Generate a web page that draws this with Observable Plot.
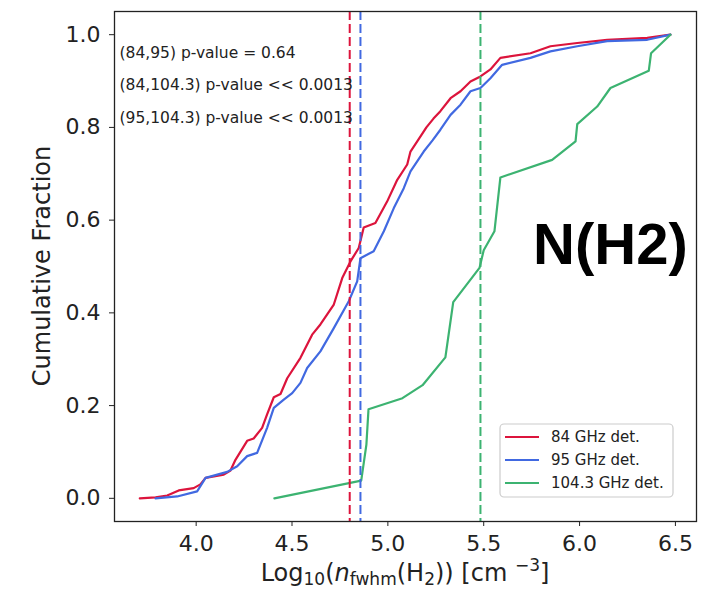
<!DOCTYPE html>
<html><head><meta charset="utf-8">
<script src="https://cdn.jsdelivr.net/npm/d3@7"></script>
<script src="https://cdn.jsdelivr.net/npm/@observablehq/plot@0.6"></script>
<style>body{margin:0;background:#fff} svg{display:block}</style>
</head><body><div id="chart"></div>
<script>
const xTicks = [4.0, 4.5, 5.0, 5.5, 6.0, 6.5];
const yTicks = [0.0, 0.2, 0.4, 0.6, 0.8, 1.0];
const seriesNames = ["84 GHz det.", "95 GHz det.", "104.3 GHz det."];
const seriesColors = ["#dc143c", "#4169e1", "#3cb371"];

const x84 = [3.706,3.788,3.849,3.909,3.987,4.022,4.049,4.144,4.179,4.205,4.266,4.300,4.344,4.370,4.405,4.440,4.475,4.544,4.605,4.648,4.718,4.762,4.805,4.848,4.874,4.935,4.996,5.049,5.101,5.118,5.160,5.201,5.238,5.274,5.327,5.379,5.431,5.483,5.535,5.587,5.744,5.848,5.988,6.144,6.353,6.474];
const y84 = [0.000,0.002,0.006,0.017,0.022,0.030,0.044,0.051,0.060,0.083,0.124,0.129,0.152,0.181,0.218,0.225,0.259,0.303,0.353,0.375,0.418,0.475,0.511,0.540,0.584,0.594,0.640,0.687,0.720,0.748,0.774,0.800,0.819,0.835,0.863,0.878,0.899,0.910,0.925,0.950,0.960,0.975,0.982,0.989,0.993,1.000];

const x95 = [3.788,3.901,4.005,4.049,4.162,4.214,4.266,4.318,4.370,4.405,4.457,4.501,4.544,4.579,4.648,4.718,4.796,4.840,4.857,4.926,4.979,5.031,5.083,5.118,5.187,5.233,5.274,5.327,5.379,5.431,5.483,5.535,5.596,5.744,5.848,5.988,6.144,6.353,6.474];
const y95 = [0.000,0.004,0.015,0.044,0.057,0.069,0.091,0.098,0.152,0.195,0.213,0.227,0.249,0.281,0.317,0.367,0.425,0.468,0.518,0.533,0.576,0.626,0.669,0.705,0.748,0.772,0.795,0.827,0.849,0.878,0.885,0.906,0.935,0.950,0.964,0.975,0.986,0.989,1.000];

const x104 = [4.408,4.861,4.888,4.899,5.076,5.181,5.300,5.341,5.478,5.500,5.556,5.587,5.857,5.979,5.988,6.092,6.161,6.361,6.373,6.474];
const y104 = [0.000,0.038,0.116,0.192,0.216,0.244,0.304,0.423,0.497,0.535,0.576,0.692,0.730,0.770,0.807,0.845,0.885,0.922,0.960,1.000];

const medians = [4.801, 4.857, 5.483];
const pLabels = ["(84,95) p-value = 0.64", "(84,104.3) p-value << 0.0013", "(95,104.3) p-value << 0.0013"];
const pLabelY = [0.95, 0.88, 0.81];
const pLabelX = 3.6;
const panelLabel = "N(H2)";
const yLabel = "Cumulative Fraction";

const seriesX = [x84, x95, x104], seriesY = [y84, y95, y104];
const rows = [];
seriesNames.forEach((s, i) => seriesX[i].forEach((v, j) => rows.push({series: s, x: v, y: seriesY[i][j]})));
const medRows = seriesNames.map((s, i) => ({series: s, x: medians[i]}));
const pRows = pLabels.map((t, i) => ({t, y: pLabelY[i]}));

const fmt = d => d.toFixed(1);
const chart = Plot.plot({
  width: 704, height: 589,
  marginLeft: 114, marginRight: 8, marginTop: 11, marginBottom: 68,
  style: {fontFamily: "'DejaVu Sans', sans-serif", background: "white", color: "#222"},
  x: {domain: [3.574, 6.61], label: null},
  y: {domain: [-0.05, 1.05], label: null},
  color: {domain: seriesNames, range: seriesColors},
  marks: [
    Plot.line(rows, {x: "x", y: "y", z: "series", stroke: "series", strokeWidth: 2.2}),
    Plot.ruleX(medRows, {x: "x", stroke: "series", strokeDasharray: "9,4", strokeWidth: 2}),
    Plot.axisX({ticks: xTicks, tickFormat: fmt, tickSize: 5, tickPadding: 9, fontSize: 22, label: null}),
    Plot.axisY({ticks: yTicks, tickFormat: fmt, tickSize: 5, tickPadding: 9, fontSize: 22, label: null}),
    Plot.frame({stroke: "#222", strokeWidth: 1.3}),
    Plot.text(pRows, {x: () => pLabelX, y: "y", text: "t", textAnchor: "start", lineAnchor: "bottom", fontSize: 15.5, fill: "#222"}),
    Plot.text([panelLabel], {x: () => 6.161, y: () => 0.505, text: d => d, textAnchor: "middle", lineAnchor: "bottom", fontSize: 58, fontWeight: "bold", fontFamily: "'Liberation Sans', Arial, sans-serif", fill: "#000"})
  ]
});
document.getElementById("chart").appendChild(chart);

const svg = d3.select(chart);
// y axis label
svg.append("text").attr("transform", "translate(42,266) rotate(-90)")
  .attr("text-anchor", "middle").attr("dominant-baseline", "central")
  .attr("font-size", 24).attr("fill", "#222").attr("font-family", "'DejaVu Sans', sans-serif").text(yLabel);
// x axis label with sub/superscripts
const xl = svg.append("text").attr("x", 405).attr("y", 581).attr("text-anchor", "middle")
  .attr("font-size", 24).attr("fill", "#222").attr("font-family", "'DejaVu Sans', sans-serif");
xl.append("tspan").text("Log");
xl.append("tspan").attr("font-size", 17).attr("dy", 4).text("10");
xl.append("tspan").attr("dy", -4).text("(");
xl.append("tspan").attr("font-style", "italic").text("n");
xl.append("tspan").attr("font-size", 17).attr("dy", 4).text("fwhm");
xl.append("tspan").attr("dy", -4).text("(H");
xl.append("tspan").attr("font-size", 17).attr("dy", 4).text("2");
xl.append("tspan").attr("dy", -4).text(")) [cm ");
xl.append("tspan").attr("font-size", 17).attr("dy", -10).text("\u22123");
xl.append("tspan").attr("dy", 10).text("]");

// legend
const lg = svg.append("g").attr("text-anchor", "start");
lg.append("rect").attr("x", 500).attr("y", 424).attr("width", 173).attr("height", 73).attr("rx", 4)
  .attr("fill", "white").attr("fill-opacity", 0.85).attr("stroke", "#cccccc").attr("stroke-width", 1.2);
seriesNames.forEach((s, i) => {
  const yy = 437 + i * 23;
  lg.append("line").attr("x1", 505).attr("x2", 539).attr("y1", yy).attr("y2", yy)
    .attr("stroke", seriesColors[i]).attr("stroke-width", 2.2);
  lg.append("text").attr("x", 551).attr("y", yy).attr("text-anchor", "start").attr("dominant-baseline", "central")
    .attr("font-size", 15).attr("fill", "#222").attr("font-family", "'DejaVu Sans', sans-serif").text(s);
});
</script></body></html>
